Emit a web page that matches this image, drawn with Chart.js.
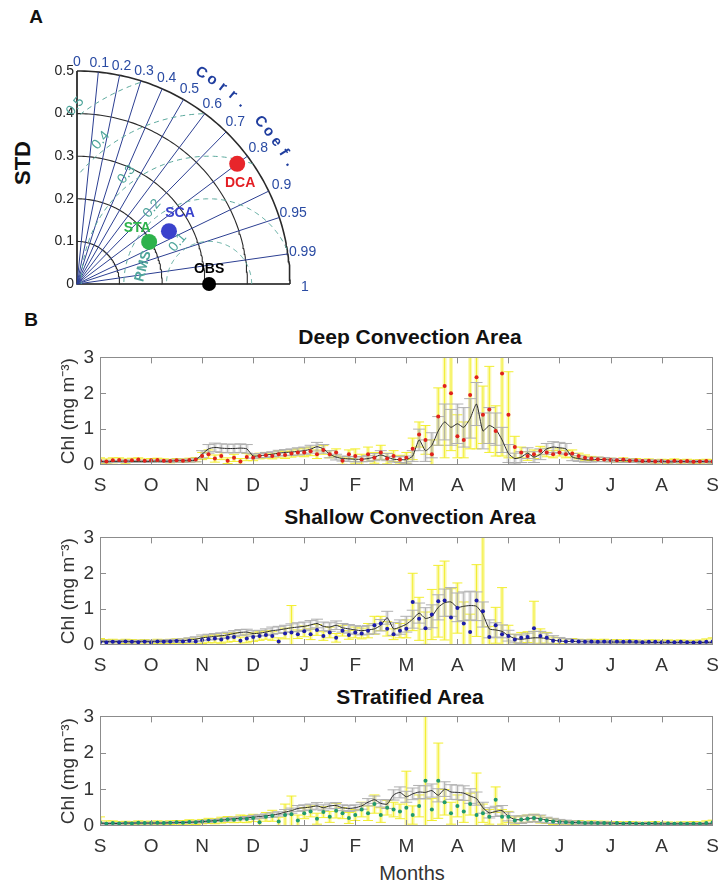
<!DOCTYPE html>
<html><head><meta charset="utf-8">
<script src="https://cdn.jsdelivr.net/npm/chart.js@4.4.1/dist/chart.umd.min.js"></script>
<style>
body{margin:0;background:#fff;width:728px;height:886px;position:relative;overflow:hidden;font-family:"Liberation Sans",Arial,sans-serif;}
canvas{position:absolute;left:0;}
.t{position:absolute;white-space:nowrap;transform:translate(-50%,-50%);color:#111;}
.b{font-weight:bold;}
</style></head><body>
<div class="t b" style="left:36px;top:17px;font-size:19px;">A</div>
<div class="t b" style="left:23px;top:163px;font-size:22px;transform:translate(-50%,-50%) rotate(-90deg);">STD</div>
<div class="t b" style="left:31px;top:320px;font-size:19px;">B</div>
<div class="t b" style="left:410px;top:337px;font-size:21px;">Deep Convection Area</div>
<div class="t b" style="left:410px;top:517px;font-size:21px;">Shallow Convection Area</div>
<div class="t b" style="left:410px;top:697px;font-size:21px;">STratified Area</div>
<div class="t" style="left:412px;top:873px;font-size:20px;color:#333;">Months</div>
<canvas id="taylor" width="330" height="300" style="top:0;"></canvas>
<canvas id="p1" width="728" height="170" style="top:340px;"></canvas>
<canvas id="p2" width="728" height="170" style="top:520px;"></canvas>
<canvas id="p3" width="728" height="172" style="top:699px;"></canvas>
<script>
// ---------- Taylor diagram data ----------
const STD_TICKS = [0, 0.1, 0.2, 0.3, 0.4, 0.5];
const STD_ARCS = [0.1, 0.2, 0.3, 0.4, 0.5];
const CORR_LINES = [0.1, 0.2, 0.3, 0.4, 0.5, 0.6, 0.7, 0.8, 0.9, 0.95, 0.99];
const CORR_LABELS = [0, 0.1, 0.2, 0.3, 0.4, 0.5, 0.6, 0.7, 0.8, 0.9, 0.95, 0.99, 1];
const RMS_ARCS = [0.1, 0.2, 0.3, 0.4, 0.5];
const OBS_STD = 0.31;
const MODEL_NAMES = ['DCA', 'SCA', 'STA'];
const MODEL_STD = [0.47, 0.249, 0.196];
const MODEL_CORR = [0.80, 0.867, 0.864];

// ---------- time series data (step 1/8 month, Sep -> Sep) ----------
const MONTHS = ['S','O','N','D','J','F','M','A','M','J','J','A','S'];
const Y_TICKS = [0, 1, 2, 3];
const STEP = 0.125;

const dcaModel = [0.10,0.09,0.10,0.10,0.11,0.10,0.10,0.10, 0.10,0.11,0.10,0.11,0.12,0.12,0.12,0.14, 0.30,0.45,0.49,0.47,0.46,0.46,0.47,0.45, 0.25,0.26,0.28,0.30,0.33,0.35,0.36,0.38, 0.40,0.44,0.51,0.45,0.30,0.22,0.18,0.17, 0.16,0.16,0.18,0.22,0.28,0.22,0.16,0.15, 0.15,0.25,0.70,0.40,0.55,0.95,1.20,1.05, 1.15,1.05,1.30,1.70,0.95,1.10,1.00,0.70, 0.32,0.18,0.22,0.33,0.22,0.30,0.45,0.50, 0.48,0.45,0.22,0.18,0.15,0.14,0.16,0.15, 0.14,0.13,0.12,0.12,0.11,0.10,0.10,0.10, 0.10,0.09,0.09,0.10,0.09,0.09,0.10,0.09, 0.09];
const dcaStd = [0.03,0.03,0.03,0.03,0.03,0.03,0.03,0.03, 0.03,0.03,0.03,0.03,0.04,0.04,0.04,0.05, 0.10,0.12,0.12,0.12,0.12,0.12,0.12,0.12, 0.06,0.06,0.07,0.07,0.08,0.08,0.09,0.10, 0.10,0.11,0.12,0.12,0.10,0.08,0.07,0.07, 0.07,0.07,0.08,0.10,0.12,0.10,0.08,0.08, 0.10,0.15,0.30,0.30,0.35,0.40,0.50,0.50, 0.55,0.55,0.55,0.60,0.50,0.50,0.45,0.35, 0.25,0.15,0.15,0.15,0.15,0.15,0.15,0.15, 0.15,0.15,0.10,0.08,0.07,0.06,0.06,0.06, 0.05,0.05,0.05,0.05,0.04,0.04,0.04,0.04, 0.03,0.03,0.03,0.03,0.03,0.03,0.03,0.03, 0.03];
const dcaObs = [0.12,0.10,0.13,0.14,0.11,0.13,0.15,0.12, 0.13,0.14,0.12,0.11,0.13,0.12,0.14,0.15, 0.25,0.30,0.18,0.25,0.12,0.20,0.10,0.22, 0.20,0.25,0.27,0.25,0.30,0.28,0.32,0.35, 0.35,0.38,0.30,0.42,0.30,0.35,0.12,0.30, 0.25,0.15,0.30,0.20,0.35,0.18,0.25,0.15, 0.20,0.45,0.85,0.70,0.30,1.35,2.20,2.00, 0.80,0.70,1.95,2.45,1.40,1.55,0.95,2.55, 1.40,0.50,0.35,0.25,0.30,0.40,0.35,0.30, 0.35,0.30,0.32,0.25,0.20,0.18,0.16,0.15, 0.14,0.13,0.15,0.12,0.13,0.11,0.12,0.10, 0.11,0.10,0.12,0.10,0.11,0.09,0.10,0.11, 0.10];
const dcaErr = [0.08,0.07,0.07,0.06,0.06,0.06,0.05,0.05, 0.05,0.05,0.05,0.05,0.05,0.05,0.05,0.06, 0.10,0.12,0.10,0.10,0.08,0.10,0.08,0.10, 0.08,0.08,0.08,0.08,0.10,0.10,0.10,0.10, 0.12,0.12,0.12,0.12,0.10,0.10,0.10,0.12, 0.20,0.15,0.20,0.15,0.20,0.15,0.15,0.12, 0.15,0.30,0.35,0.40,0.40,0.80,2.00,1.60, 0.60,0.50,1.50,2.00,0.80,1.20,0.70,2.30, 1.20,0.30,0.15,0.12,0.12,0.12,0.12,0.10, 0.10,0.10,0.10,0.08,0.08,0.06,0.06,0.05, 0.05,0.05,0.05,0.05,0.05,0.05,0.05,0.05, 0.05,0.05,0.05,0.05,0.05,0.05,0.05,0.05, 0.05];

const scaModel = [0.10,0.10,0.09,0.10,0.10,0.09,0.10,0.10, 0.10,0.10,0.11,0.11,0.12,0.12,0.14,0.16, 0.20,0.22,0.24,0.26,0.28,0.32,0.35,0.36, 0.32,0.33,0.36,0.40,0.42,0.45,0.48,0.50, 0.52,0.56,0.60,0.52,0.50,0.55,0.48,0.45, 0.42,0.40,0.42,0.45,0.55,0.76,0.45,0.50, 0.58,0.72,0.89,0.74,0.80,1.05,1.18,1.20, 1.05,1.08,1.10,1.08,0.85,0.45,0.42,0.38, 0.26,0.18,0.16,0.18,0.20,0.20,0.18,0.14, 0.11,0.10,0.10,0.09,0.09,0.08,0.08,0.08, 0.08,0.08,0.08,0.08,0.08,0.08,0.07,0.07, 0.07,0.07,0.07,0.07,0.07,0.07,0.07,0.07, 0.07];
const scaStd = [0.03,0.03,0.03,0.03,0.03,0.03,0.03,0.03, 0.03,0.03,0.03,0.04,0.04,0.05,0.06,0.07, 0.08,0.08,0.08,0.08,0.08,0.08,0.08,0.08, 0.08,0.08,0.09,0.10,0.10,0.10,0.11,0.12, 0.12,0.12,0.12,0.12,0.12,0.12,0.12,0.12, 0.12,0.12,0.12,0.14,0.16,0.18,0.18,0.20, 0.22,0.25,0.28,0.30,0.32,0.35,0.38,0.40, 0.40,0.40,0.40,0.40,0.35,0.25,0.20,0.18, 0.15,0.12,0.12,0.15,0.18,0.18,0.15,0.12, 0.10,0.08,0.06,0.05,0.05,0.04,0.04,0.04, 0.03,0.03,0.03,0.03,0.03,0.03,0.03,0.03, 0.03,0.03,0.03,0.03,0.03,0.03,0.03,0.03, 0.03];
const scaObs = [0.08,0.07,0.09,0.08,0.10,0.09,0.08,0.09, 0.07,0.10,0.09,0.10,0.11,0.10,0.12,0.10, 0.14,0.16,0.18,0.15,0.20,0.22,0.12,0.18, 0.22,0.25,0.28,0.25,0.10,0.32,0.35,0.30, 0.38,0.30,0.42,0.25,0.35,0.20,0.40,0.28, 0.35,0.32,0.40,0.55,0.60,0.45,0.30,0.40, 0.45,1.20,0.73,0.47,0.85,1.22,1.24,0.77, 1.03,0.60,0.36,1.24,0.94,0.22,0.55,0.30, 0.25,0.15,0.20,0.22,0.47,0.25,0.20,0.12, 0.12,0.10,0.11,0.10,0.09,0.10,0.09,0.10, 0.09,0.10,0.09,0.10,0.09,0.08,0.09,0.09, 0.08,0.09,0.08,0.09,0.08,0.07,0.08,0.09, 0.10];
const scaErr = [0.10,0.08,0.07,0.06,0.06,0.06,0.06,0.06, 0.06,0.06,0.06,0.06,0.06,0.07,0.07,0.08, 0.10,0.10,0.12,0.10,0.12,0.12,0.10,0.12, 0.12,0.12,0.12,0.12,0.10,0.15,0.75,0.12, 0.15,0.15,0.15,0.12,0.15,0.12,0.15,0.12, 0.15,0.15,0.20,0.25,0.20,0.20,0.15,0.20, 0.25,0.80,0.60,0.45,0.70,1.00,1.10,0.80, 0.70,0.60,0.50,1.00,2.10,0.30,0.50,1.30, 0.30,0.15,0.15,0.15,0.75,0.20,0.15,0.10, 0.08,0.07,0.07,0.06,0.06,0.06,0.06,0.06, 0.05,0.05,0.05,0.05,0.05,0.05,0.05,0.05, 0.05,0.05,0.05,0.05,0.05,0.06,0.06,0.08, 0.10];

const staModel = [0.08,0.07,0.07,0.07,0.08,0.08,0.08,0.08, 0.08,0.08,0.08,0.09,0.09,0.10,0.10,0.11, 0.12,0.13,0.15,0.16,0.18,0.20,0.21,0.22, 0.24,0.26,0.28,0.30,0.33,0.38,0.42,0.48, 0.50,0.52,0.55,0.50,0.55,0.56,0.50,0.48, 0.50,0.55,0.65,0.72,0.62,0.60,0.85,0.92, 0.80,0.88,0.93,0.92,0.97,0.84,1.01,0.93, 0.92,0.90,0.82,0.75,0.50,0.36,0.40,0.42, 0.26,0.18,0.17,0.20,0.22,0.20,0.16,0.14, 0.12,0.11,0.10,0.09,0.08,0.08,0.08,0.08, 0.08,0.07,0.07,0.07,0.07,0.07,0.07,0.06, 0.06,0.06,0.06,0.06,0.06,0.06,0.06,0.06, 0.06];
const staStd = [0.02,0.02,0.02,0.02,0.02,0.02,0.02,0.02, 0.02,0.02,0.02,0.02,0.02,0.02,0.02,0.02, 0.03,0.03,0.03,0.03,0.04,0.04,0.04,0.04, 0.05,0.05,0.05,0.06,0.06,0.07,0.07,0.08, 0.08,0.08,0.09,0.08,0.08,0.08,0.08,0.08, 0.08,0.09,0.10,0.10,0.10,0.12,0.14,0.15, 0.15,0.16,0.18,0.18,0.18,0.18,0.20,0.20, 0.20,0.20,0.20,0.18,0.15,0.14,0.14,0.14, 0.12,0.10,0.10,0.10,0.10,0.10,0.08,0.07, 0.06,0.05,0.04,0.04,0.03,0.03,0.03,0.03, 0.02,0.02,0.02,0.02,0.02,0.02,0.02,0.02, 0.02,0.02,0.02,0.02,0.02,0.02,0.02,0.02, 0.02];
const staObs = [0.10,0.06,0.08,0.07,0.08,0.07,0.09,0.08, 0.08,0.09,0.08,0.09,0.10,0.09,0.11,0.10, 0.12,0.14,0.13,0.16,0.18,0.17,0.20,0.19, 0.22,0.10,0.25,0.28,0.12,0.30,0.32,0.15, 0.35,0.40,0.20,0.38,0.25,0.42,0.35,0.22, 0.30,0.45,0.35,0.60,0.30,0.50,0.45,0.40, 0.50,0.30,0.55,1.24,0.45,1.24,0.65,0.35, 0.55,0.40,0.60,0.30,0.35,0.25,0.72,0.25, 0.25,0.15,0.18,0.20,0.22,0.18,0.15,0.12, 0.11,0.10,0.09,0.10,0.08,0.09,0.08,0.08, 0.07,0.08,0.07,0.08,0.07,0.06,0.07,0.08, 0.06,0.07,0.06,0.07,0.06,0.07,0.06,0.08, 0.10];
const staErr = [0.15,0.08,0.06,0.05,0.05,0.05,0.05,0.05, 0.05,0.05,0.05,0.05,0.05,0.06,0.06,0.06, 0.06,0.07,0.07,0.08,0.08,0.08,0.10,0.10, 0.10,0.10,0.12,0.15,0.12,0.30,0.50,0.15, 0.15,0.15,0.15,0.15,0.15,0.20,0.15,0.15, 0.15,0.20,0.20,0.25,0.20,0.20,0.20,0.20, 1.00,0.25,0.30,1.80,0.30,1.03,0.35,0.30, 0.30,0.30,0.30,1.15,0.25,0.20,0.35,0.20, 0.15,0.10,0.10,0.10,0.10,0.10,0.08,0.08, 0.06,0.05,0.05,0.05,0.05,0.05,0.05,0.05, 0.04,0.04,0.04,0.04,0.04,0.04,0.04,0.04, 0.04,0.04,0.04,0.04,0.05,0.05,0.05,0.06, 0.06];

const FONT = '"Liberation Sans", Arial, sans-serif';
Chart.defaults.font.family = FONT;

// ---------- Taylor diagram ----------
function arc(r, n) { const p = []; for (let k = 0; k <= n; k++) { const t = (Math.PI / 2) * k / n; p.push({x: r * Math.cos(t), y: r * Math.sin(t)}); } return p; }
function rmsArc(R) { const p = []; for (let k = 0; k <= 180; k++) { const t = Math.PI * k / 180; const x = OBS_STD + R * Math.cos(t), y = R * Math.sin(t); if (x >= 0 && Math.hypot(x, y) <= 0.5) p.push({x, y}); } return p; }
const tds = [];
MODEL_NAMES.forEach((n, i) => {
  const t = Math.acos(MODEL_CORR[i]);
  tds.push({type: 'scatter', data: [{x: MODEL_STD[i] * Math.cos(t), y: MODEL_STD[i] * Math.sin(t)}], pointRadius: 8, pointBorderWidth: 0,
    pointBackgroundColor: ['#e8262b', '#3a42cc', '#2db24b'][i], showLine: false, order: 0, clip: false});
});
tds.push({type: 'scatter', data: [{x: OBS_STD, y: 0}], pointRadius: 7, pointBorderWidth: 0, pointBackgroundColor: '#000', showLine: false, order: 0, clip: false});
RMS_ARCS.forEach(R => tds.push({type: 'line', data: rmsArc(R), borderColor: '#5aa89c', borderWidth: 1, borderDash: [5, 4], pointRadius: 0, order: 1, clip: false}));
CORR_LINES.forEach(c => { const t = Math.acos(c); tds.push({type: 'line', data: [{x: 0, y: 0}, {x: 0.5 * Math.cos(t), y: 0.5 * Math.sin(t)}], borderColor: '#2c3f92', borderWidth: 1, pointRadius: 0, order: 2, clip: false}); });
STD_ARCS.forEach(r => tds.push({type: 'line', data: arc(r, 90), borderColor: '#2a2a2a', borderWidth: r === 0.5 ? 1.6 : 1.1, pointRadius: 0, order: 3, clip: false}));
tds.push({type: 'line', data: [{x: 0, y: 0.5}, {x: 0, y: 0}, {x: 0.5, y: 0}], borderColor: '#111', borderWidth: 1.6, pointRadius: 0, order: 3, clip: false});

const taylorText = {
  id: 'taylorText',
  afterDatasetsDraw(chart) {
    const {ctx, scales: {x, y}} = chart;
    const P = (a, b) => [x.getPixelForValue(a), y.getPixelForValue(b)];
    ctx.save();
    ctx.textBaseline = 'middle';
    ctx.font = '14px ' + FONT; ctx.fillStyle = '#222'; ctx.textAlign = 'right';
    STD_TICKS.forEach(v => { const [px, py] = P(0, v); ctx.fillText(String(v), px - 3, py); });
    ctx.fillStyle = '#2a4ba3'; ctx.textAlign = 'center';
    CORR_LABELS.forEach(c => { const t = Math.acos(c), r = 0.52 + 0.015 * c; const [px, py] = P(r * Math.cos(t), r * Math.sin(t)); ctx.fillText(String(c), px, py + (c === 1 ? 3 : 0)); });
    // curved "Corr. Coef."
    ctx.font = 'bold 15px ' + FONT; ctx.fillStyle = '#1f3d9e';
    const txt = 'Corr. Coef.';
    for (let k = 0; k < txt.length; k++) {
      const deg = 59.5 - 3 * k, t = deg * Math.PI / 180;
      const [px, py] = P(0.575 * Math.cos(t), 0.575 * Math.sin(t));
      ctx.save(); ctx.translate(px, py); ctx.rotate((90 - deg) * Math.PI / 180); ctx.fillText(txt[k], 0, 0); ctx.restore();
    }
    // RMS labels
    ctx.font = '14px ' + FONT; ctx.fillStyle = '#4fa59b';
    RMS_ARCS.forEach(R => { const t = 127 * Math.PI / 180, d = R + 0.022; const [px, py] = P(OBS_STD + d * Math.cos(t), d * Math.sin(t));
      ctx.save(); ctx.translate(px, py); ctx.rotate(-50 * Math.PI / 180); ctx.fillText(String(R), 0, 0); ctx.restore(); });
    { const t = 165 * Math.PI / 180, d = 0.16; const [px, py] = P(OBS_STD + d * Math.cos(t), d * Math.sin(t));
      ctx.font = 'bold 14px ' + FONT; ctx.save(); ctx.translate(px, py); ctx.rotate(-75 * Math.PI / 180); ctx.fillText('RMS', 0, 0); ctx.restore(); }
    // model labels
    const off = [[3, 19], [11, -18], [-12, -14]], col = ['#e31e24', '#3a42cc', '#2db24b'];
    ctx.font = 'bold 14px ' + FONT;
    MODEL_NAMES.forEach((n, i) => { const t = Math.acos(MODEL_CORR[i]); const [px, py] = P(MODEL_STD[i] * Math.cos(t), MODEL_STD[i] * Math.sin(t));
      ctx.fillStyle = col[i]; ctx.fillText(n, px + off[i][0], py + off[i][1]); });
    { const [px, py] = P(OBS_STD, 0); ctx.fillStyle = '#000'; ctx.fillText('OBS', px, py - 15); }
    ctx.restore();
  }
};

new Chart(document.getElementById('taylor'), {
  type: 'scatter',
  data: {datasets: tds},
  options: {
    responsive: false, animation: false, events: [],
    layout: {padding: {left: 77, top: 71, right: 40, bottom: 16}},
    plugins: {legend: {display: false}, tooltip: {enabled: false}},
    scales: {x: {type: 'linear', min: 0, max: 0.5, display: false}, y: {type: 'linear', min: 0, max: 0.5, display: false}}
  },
  plugins: [taylorText]
});

// ---------- time series panels ----------
const xy = arr => arr.map((v, i) => ({x: i * STEP, y: v}));
const errPlugin = {
  id: 'errbars',
  beforeDatasetsDraw(chart, args, opts) {
    const {ctx, chartArea: a, scales: {x, y}} = chart;
    ctx.save(); ctx.beginPath(); ctx.rect(a.left, a.top, a.right - a.left, a.bottom - a.top); ctx.clip();
    for (const s of opts.sets) {
      // soft column behind each bar (stands in for the dense daily bars)
      ctx.fillStyle = s.fill;
      s.center.forEach((c, i) => {
        const px = x.getPixelForValue(i * STEP);
        const y0 = y.getPixelForValue(c - s.err[i]), y1 = y.getPixelForValue(c + s.err[i]);
        ctx.fillRect(px - s.band, y1, 2 * s.band, y0 - y1);
      });
      // bars with caps
      ctx.strokeStyle = s.color; ctx.lineWidth = 1; ctx.beginPath();
      s.center.forEach((c, i) => {
        const px = x.getPixelForValue(i * STEP);
        const y0 = y.getPixelForValue(c - s.err[i]), y1 = y.getPixelForValue(c + s.err[i]);
        ctx.moveTo(px, y0); ctx.lineTo(px, y1);
        ctx.moveTo(px - s.cap, y0); ctx.lineTo(px + s.cap, y0);
        ctx.moveTo(px - s.cap, y1); ctx.lineTo(px + s.cap, y1);
      });
      ctx.stroke();
    }
    ctx.restore();
  }
};
const boxPlugin = {
  id: 'box',
  afterDraw(chart) {
    const {ctx, chartArea: a, scales: {x, y}} = chart;
    ctx.save(); ctx.strokeStyle = '#8c8c8c'; ctx.lineWidth = 1;
    ctx.strokeRect(Math.round(a.left) + 0.5, Math.round(a.top) + 0.5, Math.round(a.right - a.left) - 1, Math.round(a.bottom - a.top) - 1);
    ctx.beginPath();
    MONTHS.forEach((m, i) => { if (i === 0 || i === MONTHS.length - 1) return; const px = Math.round(x.getPixelForValue(i)) + 0.5;
      ctx.moveTo(px, a.bottom); ctx.lineTo(px, a.bottom - 6); ctx.moveTo(px, a.top); ctx.lineTo(px, a.top + 6); });
    Y_TICKS.forEach((v, i) => { if (i === 0 || i === Y_TICKS.length - 1) return; const py = Math.round(y.getPixelForValue(v)) + 0.5;
      ctx.moveTo(a.left, py); ctx.lineTo(a.left + 6, py); ctx.moveTo(a.right, py); ctx.lineTo(a.right - 6, py); });
    ctx.stroke(); ctx.restore();
  }
};

function panel(id, model, std, obs, err, dot) {
  new Chart(document.getElementById(id), {
    type: 'line',
    data: {datasets: [
      {type: 'scatter', data: xy(obs), showLine: false, pointRadius: 2, pointBorderWidth: 0, pointBackgroundColor: dot, order: 0},
      {type: 'line', data: xy(model), borderColor: '#2b2b2b', borderWidth: 1, pointRadius: 0, tension: 0.2, order: 1}
    ]},
    options: {
      responsive: false, animation: false, events: [],
      layout: {padding: {left: 53, right: 7, top: 12, bottom: 4}},
      plugins: {legend: {display: false}, tooltip: {enabled: false},
        errbars: {sets: [
          {center: obs, err: err, color: '#f2ee30', fill: 'rgba(246,242,80,0.45)', band: 2, cap: 5},
          {center: model, err: std, color: '#b0b0b0', fill: 'rgba(175,175,175,0.30)', band: 2, cap: 6}]}},
      scales: {
        x: {type: 'linear', min: 0, max: MONTHS.length - 1,
          afterBuildTicks: s => { s.ticks = MONTHS.map((m, i) => ({value: i})); },
          afterFit: s => { s.height = 41; },
          ticks: {callback: v => MONTHS[v], font: {size: 19}, color: '#333', padding: 9, maxRotation: 0, autoSkip: false},
          grid: {display: false, drawTicks: false}, border: {display: false}},
        y: {min: Y_TICKS[0], max: Y_TICKS[Y_TICKS.length - 1],
          afterBuildTicks: s => { s.ticks = Y_TICKS.map(v => ({value: v})); },
          afterFit: s => { s.width = 47; },
          ticks: {font: {size: 19}, color: '#333', padding: 6},
          title: {display: true, text: 'Chl (mg m\u207B\u00B3)', font: {size: 19}, color: '#333', padding: {top: 4, bottom: 0}},
          grid: {display: false, drawTicks: false}, border: {display: false}}
      }
    },
    plugins: [errPlugin, boxPlugin]
  });
}
panel('p1', dcaModel, dcaStd, dcaObs, dcaErr, '#e0211c');
panel('p2', scaModel, scaStd, scaObs, scaErr, '#1c1caa');
panel('p3', staModel, staStd, staObs, staErr, '#1f9a6c');
</script>
</body></html>
